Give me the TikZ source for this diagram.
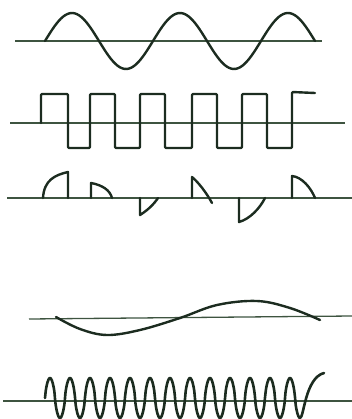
\documentclass[tikz,border=0pt]{standalone}
\usepackage{tikz}
\definecolor{ink}{RGB}{28,44,32}
\definecolor{axisink}{RGB}{62,84,64}

\begin{document}
\begin{tikzpicture}[x=1pt, y=-1pt, axis/.style={axisink, line width=1.3pt}, wave/.style={ink, line width=2.4pt, line join=round, line cap=round}]
	\useasboundingbox (0,0) rectangle (352,419);
	\draw[axis] (15,41) -- (322,41);
	\draw[wave] plot[domain=45:315, samples=120, smooth] (\x, {41-28*sin((\x-45)/54*180)});
	\draw[axis] (10,123) -- (345,123);
	\draw[wave, rounded corners=1pt] (41,123) -- (41,94)
		\foreach \a/\b in {68/90, 115/140, 165/192, 217/242, 267/292} {
			-- (\a,94) -- (\a,148) -- (\b,148) -- (\b,94)}
		-- (292,92) -- (315,93);
	\draw[axis] (7,198) -- (352,198);
	\draw[wave] (43,198) .. controls (44,180) and (55,175) .. (68,172) -- (68,198);
	\draw[wave] (91,198) -- (91,183) .. controls (102,185) and (110,190) .. (112,198);
	\draw[wave] (140,198) -- (140,215) .. controls (148,210) and (154,204) .. (158,198);
	\draw[wave] (192,198) -- (192,177) .. controls (198,182) and (206,192) .. (212,203);
	\draw[wave] (239,198) -- (239,222) .. controls (250,219) and (260,208) .. (265,198);
	\draw[wave] (292,198) -- (292,176) .. controls (302,177) and (311,188) .. (315,198);
	\draw[axis] (29,319) -- (352,316);
	\draw[wave] plot[smooth, tension=0.6] coordinates {(56,317) (80,329) (107,335) (140,330) (180,318) (217,305) (257,301) (290,308) (320,320)};
	\draw[axis] (3,401) -- (352,401);
	\draw[wave, line width=2.6pt] plot[domain=45:300, samples=300, smooth] (\x, {398-20*sign(sin((\x-45)*18))*abs(sin((\x-45)*18))^0.7})
		.. controls (304,418) and (305,378) .. (324,373);
\end{tikzpicture}
\end{document}
